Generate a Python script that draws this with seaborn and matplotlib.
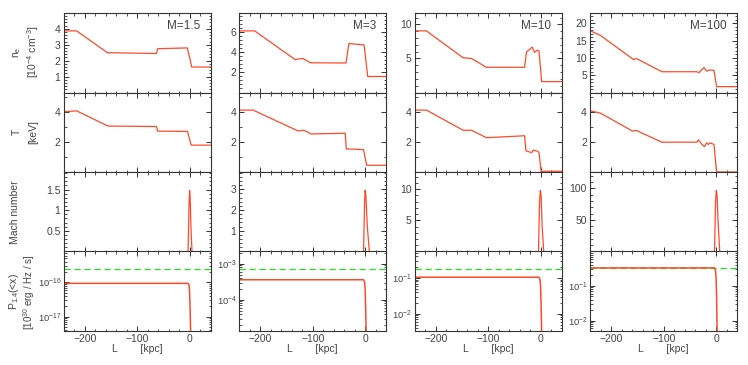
import matplotlib
matplotlib.use("Agg")
import matplotlib.pyplot as plt
import seaborn as sns
import numpy as np
from matplotlib.ticker import MultipleLocator, AutoMinorLocator, FuncFormatter, LogLocator

# ---- data ----
mach_labels = ["M=1.5", "M=3", "M=10", "M=100"]

# electron density [1e-4 cm^-3]
ne_L = [
    [-240, -216, -157, -63.5, -61, -4.4, 0, 4, 40],
    [-240, -211, -134, -119, -104, -36.5, -31, -2, 5, 40],
    [-240, -218, -196, -148, -132, -103.5, -30.5, -27, -16, -11.5, -6.5, -3, 2, 40],
    [-240, -221, -157.5, -152, -103.5, -36, -33, -23, -18, -11.5, -4, 1, 40],
]
ne_val = [
    [3.87, 3.87, 2.5, 2.45, 2.75, 2.8, 2.2, 1.6, 1.6],
    [6.16, 6.16, 3.3, 3.4, 2.97, 2.95, 4.9, 4.75, 1.6, 1.6],
    [9.05, 9.05, 7.8, 5.1, 5.0, 3.7, 3.7, 5.93, 6.67, 5.9, 6.2, 6.1, 1.6, 1.6],
    [17.8, 16.5, 9.5, 9.8, 6.0, 6.0, 5.7, 7.2, 6.2, 6.5, 6.4, 1.7, 1.7],
]

# temperature [keV]
T_L = [
    [-240, -216, -156, -63.5, -61, -4, -1, 3, 40],
    [-240, -214, -128, -117, -103, -38, -36, -3, 3, 40],
    [-240, -218, -148, -132, -103.5, -30.5, -28, -17, -14, -6, -3, 1, 40],
    [-240, -221, -160, -152, -103.5, -36.8, -33.7, -27, -22, -18, -15, -11.5, -4, 1, 40],
]
T_val = [
    [4.04, 4.1, 3.08, 3.05, 2.74, 2.72, 2.3, 1.8, 1.8],
    [4.15, 4.15, 2.75, 2.8, 2.55, 2.6, 1.55, 1.5, 0.45, 0.45],
    [4.15, 4.15, 2.8, 2.8, 2.3, 2.43, 1.42, 1.3, 1.46, 1.4, 1.3, 0.05, 0.05],
    [4.1, 3.95, 2.75, 2.78, 2.0, 2.0, 2.15, 1.85, 1.7, 1.95, 1.85, 1.95, 1.85, 0.0, 0.0],
]

# Mach number spike at the shock
mach_L = [
    [-3, -1, 0, 1, 2.5, 4.5],
    [-3, -1, 0, 1.5, 4, 8],
    [-4, -2, -0.5, 1, 3, 6],
    [-3, -1, 0.5, 2, 4, 7],
]
mach_val = [
    [0, 1.2, 1.48, 1.3, 0.6, 0],
    [0, 2.4, 2.95, 2.7, 1.3, 0],
    [0, 8.0, 9.8, 9.0, 4.0, 0],
    [0, 80, 97, 88, 45, 0],
]

# cumulative radio power P_1.4(<x) [1e30 erg/Hz/s]
P_L = [-240, -3, -1, 0, 1, 2, 3]
P_val = [
    [9.3e-17, 9.3e-17, 8e-17, 5e-17, 1.5e-17, 3e-18, 3e-19],
    [3.6e-4, 3.6e-4, 3.1e-4, 2.0e-4, 6e-5, 1.2e-5, 1e-6],
    [0.105, 0.105, 0.09, 0.058, 0.017, 3.3e-3, 3e-4],
    [0.33, 0.33, 0.28, 0.18, 0.055, 5e-3, 5e-4],
]
P_ref = [2.5e-16, 7.4e-4, 0.18, 0.33]  # dashed green reference level

# ---- style ----
sns.set_theme(style="ticks")
plt.rcParams.update({
    "font.family": ["Liberation Sans", "DejaVu Sans"],
    "mathtext.default": "regular",
    "font.size": 7.5,
    "axes.labelsize": 7.5,
    "text.color": "#444444",
    "axes.labelcolor": "#444444",
    "xtick.color": "#333333",
    "ytick.color": "#333333",
    "xtick.labelcolor": "#444444",
    "ytick.labelcolor": "#444444",
    "xtick.labelsize": 7.5,
    "ytick.labelsize": 7.5,
    "axes.edgecolor": "#333333",
    "axes.linewidth": 0.8,
    "xtick.direction": "in",
    "ytick.direction": "in",
    "xtick.top": True,
    "ytick.right": True,
    "xtick.major.size": 3.5,
    "ytick.major.size": 3.5,
    "xtick.minor.size": 1.8,
    "ytick.minor.size": 1.8,
    "xtick.major.width": 0.7,
    "ytick.major.width": 0.7,
    "xtick.minor.width": 0.6,
    "ytick.minor.width": 0.6,
    "xtick.major.pad": 2.5,
    "ytick.major.pad": 2.5,
})

RED = "#FF4A2A"
GREEN = "#22E022"

fig, axes = plt.subplots(4, 4, figsize=(7.48, 3.65), dpi=100)
fig.subplots_adjust(left=64 / 748, right=737 / 748, top=1 - 13 / 365,
                    bottom=1 - 331 / 365, wspace=29 / 147, hspace=0)

ne_major = [1, 2, 5, 5]
T_major = [2, 2, 2, 2]
mach_major = [0.5, 1, 5, 50]
P_ylim = [(3.8e-18, 7.9e-16), (1.35e-5, 2.2e-3), (3.3e-3, 0.55), (5e-3, 0.98)]

nozero = FuncFormatter(lambda v, p: "" if abs(v) < 1e-9 else f"{v:g}")

for j in range(4):
    a_ne, a_T, a_M, a_P = axes[:, j]

    sns.lineplot(x=ne_L[j], y=ne_val[j], ax=a_ne, color=RED, lw=0.9, sort=False)
    a_ne.set_ylim(0, max(ne_val[j]) * 1.29)
    a_ne.yaxis.set_major_locator(MultipleLocator(ne_major[j]))
    a_ne.yaxis.set_minor_locator(AutoMinorLocator(5))
    a_ne.yaxis.set_major_formatter(nozero)
    a_ne.text(0.93, 0.84, mach_labels[j], transform=a_ne.transAxes,
              ha="right", va="center", fontsize=8.5)

    sns.lineplot(x=T_L[j], y=T_val[j], ax=a_T, color=RED, lw=0.9, sort=False)
    a_T.set_ylim(0, 5.33)
    a_T.yaxis.set_major_locator(MultipleLocator(T_major[j]))
    a_T.yaxis.set_minor_locator(AutoMinorLocator(2))
    a_T.yaxis.set_major_formatter(nozero)

    sns.lineplot(x=mach_L[j], y=mach_val[j], ax=a_M, color=RED, lw=0.9, sort=False)
    a_M.set_ylim(0, max(mach_val[j]) * 1.3)
    a_M.yaxis.set_major_locator(MultipleLocator(mach_major[j]))
    a_M.yaxis.set_minor_locator(AutoMinorLocator(5))
    a_M.yaxis.set_major_formatter(nozero)

    a_P.axhline(P_ref[j], color=GREEN, lw=0.9, ls=(0, (5, 3)))
    sns.lineplot(x=P_L, y=P_val[j], ax=a_P, color=RED, lw=1.1, sort=False)
    a_P.set_yscale("log")
    a_P.set_ylim(*P_ylim[j])
    a_P.yaxis.set_major_locator(LogLocator(base=10, numticks=10))
    a_P.yaxis.set_minor_locator(LogLocator(base=10, subs=np.arange(2, 10), numticks=10))
    a_P.tick_params(axis="y", labelsize=6.8, pad=2)

    for ax in axes[:, j]:
        ax.set_xlim(-240, 40)
        ax.xaxis.set_major_locator(MultipleLocator(100))
        ax.xaxis.set_minor_locator(MultipleLocator(20))
        ax.set_ylabel("")
        ax.set_xlabel("")
        ax.tick_params(which="both", top=True, right=True)
        if ax is not a_P:
            ax.tick_params(labelbottom=False)
    a_P.set_xlabel("L        [kpc]", labelpad=0)

# row labels on the left
fig.text(17 / 748, 1 - 52 / 365, "$n_e$", rotation=90, ha="center", va="center")
fig.text(33 / 748, 1 - 52 / 365, "[10$^{-4}$ cm$^{-3}$]", rotation=90, ha="center", va="center")
fig.text(17 / 748, 1 - 132 / 365, "T", rotation=90, ha="center", va="center")
fig.text(33 / 748, 1 - 132 / 365, "[keV]", rotation=90, ha="center", va="center")
fig.text(15 / 748, 1 - 212 / 365, "Mach number", rotation=90, ha="center", va="center")
fig.text(14 / 748, 1 - 292 / 365, "$P_{1.4}$(<x)", rotation=90, ha="center", va="center")
fig.text(29 / 748, 1 - 292 / 365, "[10$^{30}$ erg / Hz / s]", rotation=90, ha="center",
         va="center", fontsize=7)

fig.savefig("out.png", dpi=100)
